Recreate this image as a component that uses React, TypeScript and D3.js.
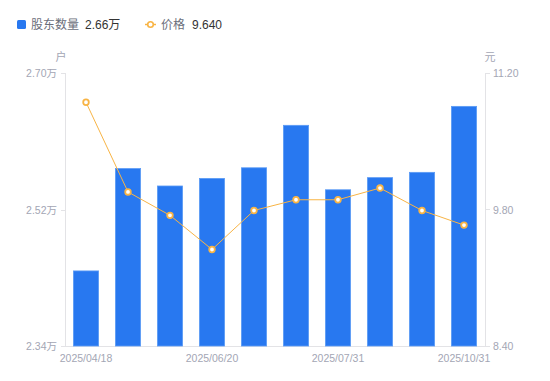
import React from "react";
import * as d3 from "d3";

const categories = ["2025/04/18", "2025/04/30", "2025/05/20", "2025/06/20", "2025/06/30", "2025/07/10", "2025/07/31", "2025/08/31", "2025/09/30", "2025/10/31"];
const holders = [2.439, 2.574, 2.551, 2.561, 2.575, 2.631, 2.546, 2.562, 2.569, 2.656];
const prices = [10.9, 9.98, 9.74, 9.39, 9.79, 9.9, 9.9, 10.02, 9.79, 9.64];
const leftTicks = [2.34, 2.52, 2.7];
const rightTicks = [8.4, 9.8, 11.2];
const shownLabels = ["2025/04/18", "2025/06/20", "2025/07/31", "2025/10/31"];

const W = 550, H = 381;
const L = 65, R = 485, T = 73, B = 346;
const FONT = "'Liberation Sans', 'Noto Sans CJK SC', sans-serif";
const BLUE = "#2878f0";
const ORANGE = "#f8b445";
const AXIS = "#e3e3e6";
const TICKTXT = "#a3a6b4";

export default function App() {
  const x = d3.scaleBand().domain(categories).range([L, R]).paddingInner(0.4).paddingOuter(0.2);
  const yl = d3.scaleLinear().domain([2.34, 2.7]).range([B, T]);
  const yr = d3.scaleLinear().domain([8.4, 11.2]).range([B, T]);
  const cx = (c: string) => (x(c) as number) + x.bandwidth() / 2;
  const line = d3.line<number>().x((_, i) => cx(categories[i])).y((d) => yr(d));

  return (
    <svg width={W} height={H} style={{ position: "absolute", left: 0, top: 0 }} fontFamily={FONT}>
      {/* legend */}
      <rect x={17} y={20} width={9} height={9} rx={1.5} fill={BLUE} />
      <text x={31} y={29} fontSize={12} fill="#6b6e7a">股东数量</text>
      <text x={85} y={29} fontSize={12} fill="#333">2.66万</text>
      <line x1={145} x2={156} y1={24.5} y2={24.5} stroke={ORANGE} strokeWidth={1.5} />
      <circle cx={150.5} cy={24.5} r={2.8} fill="#fff" stroke={ORANGE} strokeWidth={1.6} />
      <text x={161} y={29} fontSize={12} fill="#6b6e7a">价格</text>
      <text x={192} y={29} fontSize={12} fill="#333">9.640</text>

      {/* unit labels */}
      <text x={61} y={61} fontSize={11} fill={TICKTXT} textAnchor="middle">户</text>
      <text x={490} y={61} fontSize={11} fill={TICKTXT} textAnchor="middle">元</text>

      {/* axes */}
      <line x1={L + 0.5} x2={L + 0.5} y1={T} y2={B} stroke={AXIS} />
      <line x1={R + 0.5} x2={R + 0.5} y1={T} y2={B} stroke={AXIS} />
      <line x1={L} x2={R + 1} y1={B + 0.5} y2={B + 0.5} stroke={AXIS} />
      {leftTicks.map((t) => (
        <g key={"l" + t}>
          <line x1={L - 4} x2={L} y1={Math.round(yl(t)) + 0.5} y2={Math.round(yl(t)) + 0.5} stroke={AXIS} />
          <text x={L - 8} y={yl(t) + 4} fontSize={10.5} fill={TICKTXT} textAnchor="end">{t.toFixed(2)}万</text>
        </g>
      ))}
      {rightTicks.map((t) => (
        <g key={"r" + t}>
          <line x1={R} x2={R + 5} y1={Math.round(yr(t)) + 0.5} y2={Math.round(yr(t)) + 0.5} stroke={AXIS} />
          <text x={R + 8} y={yr(t) + 4} fontSize={10.5} fill={TICKTXT}>{t.toFixed(2)}</text>
        </g>
      ))}
      {shownLabels.map((c) => (
        <text key={c} x={cx(c)} y={362} fontSize={10.5} fill={TICKTXT} textAnchor="middle">{c}</text>
      ))}

      {/* bars */}
      {holders.map((v, i) => (
        <rect key={i} x={x(categories[i])} y={yl(v)} width={x.bandwidth()} height={B - yl(v)} fill={BLUE} stroke="#5c9bf5" strokeWidth={0.8} />
      ))}

      {/* line */}
      <path d={line(prices) || ""} fill="none" stroke={ORANGE} strokeWidth={1} />
      {prices.map((p, i) => (
        <circle key={i} cx={cx(categories[i])} cy={yr(p)} r={2.8} fill="#fff" stroke={ORANGE} strokeWidth={1.8} />
      ))}
    </svg>
  );
}
